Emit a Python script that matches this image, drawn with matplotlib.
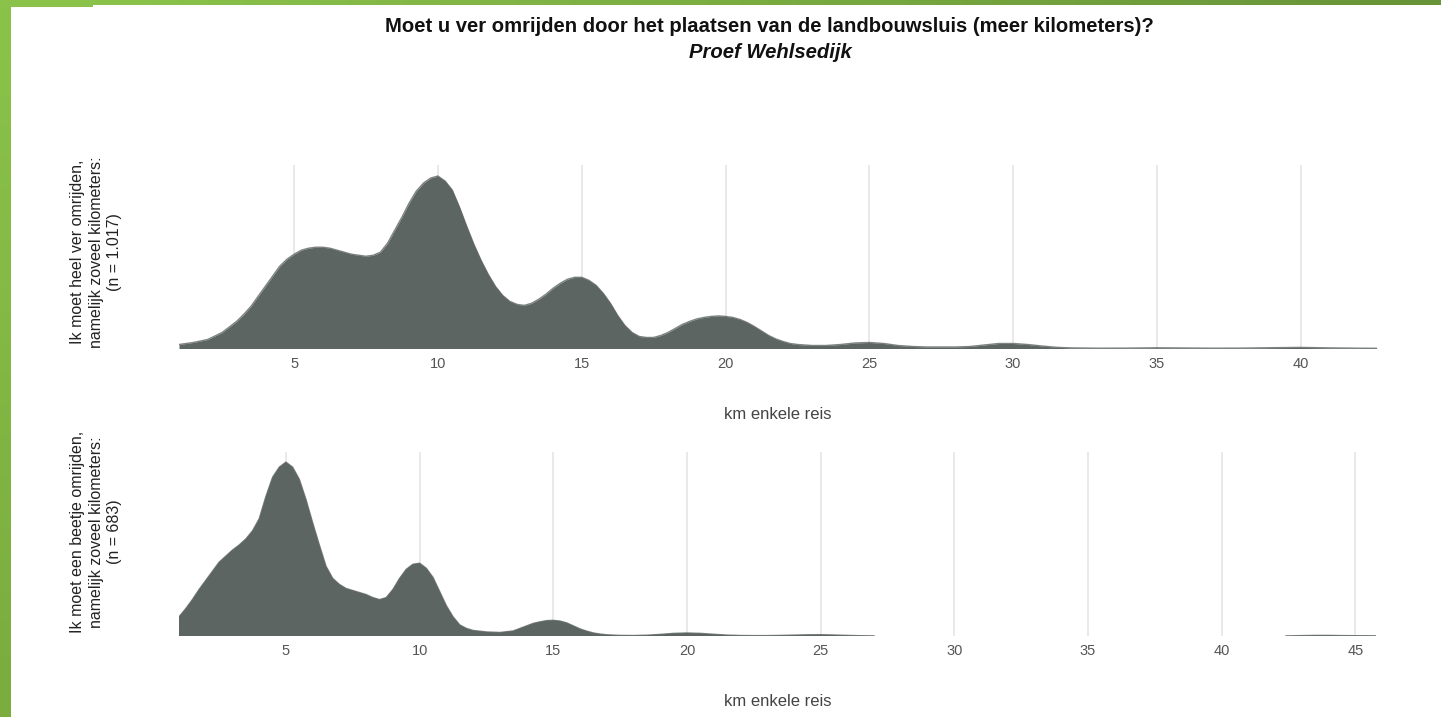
import numpy as np
import matplotlib
matplotlib.use("Agg")
import matplotlib.pyplot as plt
from matplotlib.patches import Rectangle

plt.rcParams['font.family'] = ['Liberation Sans', 'DejaVu Sans']

# ---------------- data (relative density) ----------------
title = "Moet u ver omrijden door het plaatsen van de landbouwsluis (meer kilometers)?"
subtitle = "Proef Wehlsedijk"
xlabel = "km enkele reis"

label_top = "Ik moet heel ver omrijden,\nnamelijk zoveel kilometers:\n(n = 1.017)"
label_bottom = "Ik moet een beetje omrijden,\nnamelijk zoveel kilometers:\n(n = 683)"

ticks_top = [5, 10, 15, 20, 25, 30, 35, 40]
ticks_bottom = [5, 10, 15, 20, 25, 30, 35, 40, 45]

km_top = [1.0, 1.5, 2.0, 2.5,
          3.0, 3.25, 3.5, 3.75, 4.0, 4.25, 4.5, 4.75, 5.0, 5.25, 5.5, 5.75,
          6.0, 6.25, 6.5, 6.75, 7.0, 7.25, 7.5, 7.75, 8.0, 8.25, 8.5, 8.75,
          9.0, 9.25, 9.5, 9.75, 10.0, 10.25, 10.5, 10.75, 11.0, 11.25, 11.5, 11.75,
          12.0, 12.25, 12.5, 12.75, 13.0, 13.25, 13.5, 13.75, 14.0, 14.25, 14.5, 14.75,
          15.0, 15.25, 15.5, 15.75, 16.0, 16.25, 16.5, 16.75, 17.0, 17.25, 17.5, 17.75,
          18.0, 18.25, 18.5, 18.75, 19.0, 19.25, 19.5, 19.75, 20.0, 20.25, 20.5, 20.75,
          21.0, 21.25, 21.5, 21.75, 22.0, 22.25, 22.5,
          23.0, 23.5, 24.0, 24.5, 25.0, 25.5, 26.0, 26.5,
          27.0, 27.5, 28.0, 28.5, 29.0, 29.5, 30.0, 30.5, 31.0, 31.5, 32.0, 33.0,
          34.0, 35.0, 36.0, 37.0, 38.0, 39.0, 40.0, 41.0, 42.0, 42.65]
dens_top = [4, 6, 9, 16,
            27, 34, 42, 52, 62, 72, 82, 89, 94, 98, 100, 101,
            101, 100, 98, 96, 94, 93, 92, 93, 96, 105, 118, 131,
            145, 157, 165, 170, 172, 167, 158, 141, 122, 104, 88, 74,
            62, 53, 47, 44, 43, 45, 49, 54, 60, 65, 69, 71,
            71, 68, 63, 55, 45, 33, 23, 16, 12, 11, 11, 13,
            16, 20, 24, 27, 29.5, 31, 32, 32.5, 32, 31, 29, 26,
            22, 17.5, 13, 9.5, 7, 5, 4,
            3, 3, 4, 5.5, 6, 5, 3, 2,
            1.5, 1.5, 1.5, 2, 3.5, 5, 5, 4, 2.5, 1.2, 0.6, 0.3,
            0.4, 0.7, 0.5, 0.3, 0.4, 0.8, 1.1, 0.6, 0.3, 0.2]

km_bottom = [1.0, 1.25, 1.5, 1.75, 2.0, 2.25, 2.5, 2.75, 3.0, 3.25, 3.5, 3.75,
             4.0, 4.25, 4.5, 4.75, 5.0, 5.25, 5.5, 5.75, 6.0, 6.25, 6.5, 6.75,
             7.0, 7.25, 7.5, 7.75, 8.0, 8.25, 8.5, 8.75, 9.0, 9.25, 9.5, 9.75,
             10.0, 10.25, 10.5, 10.75, 11.0, 11.25, 11.5, 11.75, 12.0, 12.5,
             13.0, 13.5, 13.75, 14.0, 14.25, 14.5, 14.75, 15.0, 15.25, 15.5, 15.75,
             16.0, 16.25, 16.5, 16.75, 17.0, 17.5, 18.0, 18.5, 19.0, 19.5,
             20.0, 20.5, 21.0, 21.5, 22.0, 22.5, 23.0, 23.5, 24.0, 24.5, 25.0, 25.5,
             26.0, 26.5, 27.0, 27.05,
             42.35, 42.4, 43.0, 43.5, 44.0, 44.5, 45.0, 45.75]
dens_bottom = [19, 27, 36, 46, 55, 64, 73, 79, 85, 90, 96, 104,
               116, 138, 157, 167, 172, 167, 155, 135, 112, 90, 69, 57,
               51, 47, 45, 43, 41, 38, 36, 38, 46, 57, 66, 71,
               72, 67, 58, 44, 30, 19, 11, 7.5, 5.5, 4,
               3.5, 5, 7.5, 10, 12.5, 14, 15.2, 15.5, 14.8, 13, 10,
               7, 4.8, 3, 1.9, 1.2, 0.6, 0.5, 0.8, 1.6, 2.6,
               3, 2.6, 1.7, 0.9, 0.5, 0.4, 0.4, 0.6, 0.9, 1.2, 1.3, 1.0,
               0.6, 0.3, 0.1, np.nan,
               np.nan, 0.1, 0.4, 0.6, 0.6, 0.4, 0.3, 0.2]

# ---------------- figure ----------------
W, H = 1441, 717
fig = plt.figure(figsize=(W / 100, H / 100), dpi=100)
fig.patch.set_facecolor('white')

# green frame (left and top strips with gradient)
bg = fig.add_axes([0, 0, 1, 1], zorder=-5)
bg.axis('off')
c1 = np.array([139, 195, 74]) / 255
c2 = np.array([104, 147, 56]) / 255
grad_h = np.linspace(0, 1, 256)[None, :, None]
img_top = c1[None, None, :] * (1 - grad_h) + c2[None, None, :] * grad_h
bg.imshow(img_top, extent=[93, W, 5, 0], aspect='auto', interpolation='bilinear')
bg.add_patch(Rectangle((0, 0), 93, 7, color=c1, lw=0))
grad_v = np.linspace(0, 1, 256)[:, None, None]
c3 = np.array([122, 172, 62]) / 255
img_left = c1[None, None, :] * (1 - grad_v) + c3[None, None, :] * grad_v
bg.imshow(img_left, extent=[0, 11, H, 0], aspect='auto', interpolation='bilinear')
bg.set_xlim(0, W)
bg.set_ylim(H, 0)

fill_color = '#5d6563'
grid_color = '#e3e3e3'
tick_color = '#555555'


def panel(rect, km, dens, ticks, ymax):
    ax = fig.add_axes(rect)
    km = np.asarray(km, dtype=float)
    dens = np.asarray(dens, dtype=float)
    ax.fill_between(km, 0, dens, where=~np.isnan(dens), color=fill_color,
                    lw=0, zorder=3, interpolate=False)
    ax.plot(km, dens, color=fill_color, lw=1.0, zorder=3, alpha=0.8,
            solid_joinstyle='round')
    ax.set_xlim(np.nanmin(km), np.nanmax(km[~np.isnan(dens)]))
    ax.set_ylim(0, ymax)
    ax.set_xticks(ticks)
    ax.set_xticklabels([str(t) for t in ticks])
    ax.set_yticks([])
    ax.grid(axis='x', color=grid_color, lw=1.1, zorder=0)
    ax.set_axisbelow(True)
    for s in ax.spines.values():
        s.set_visible(False)
    ax.tick_params(axis='x', length=0, pad=6, labelsize=10.5, labelcolor=tick_color)
    ax.set_xlabel(xlabel, fontsize=12, color='#444444', labelpad=26)
    return ax


ax1 = panel([179 / W, 1 - 348.5 / H, (1377 - 179) / W, (348.5 - 165) / H],
            km_top, dens_top, ticks_top, 183)
ax2 = panel([179 / W, 1 - 636 / H, (1375.5 - 179) / W, (636 - 452) / H],
            km_bottom, dens_bottom, ticks_bottom, 182)

fig.text(769 / W, 1 - 27 / H, title, ha='center', va='center',
         fontsize=14.6, fontweight='bold', color='#111111')
fig.text(770 / W, 1 - 52 / H, subtitle, ha='center', va='center',
         fontsize=14.6, fontweight='bold', fontstyle='italic', color='#111111')

fig.text(96 / W, 1 - 252 / H, label_top, rotation=90, ha='center', va='center',
         multialignment='center', fontsize=11.5, color='#222222', linespacing=1.3)
fig.text(96 / W, 1 - 532 / H, label_bottom, rotation=90, ha='center', va='center',
         multialignment='center', fontsize=11.5, color='#222222', linespacing=1.3)

fig.savefig('out.png', dpi=100, facecolor='white')
